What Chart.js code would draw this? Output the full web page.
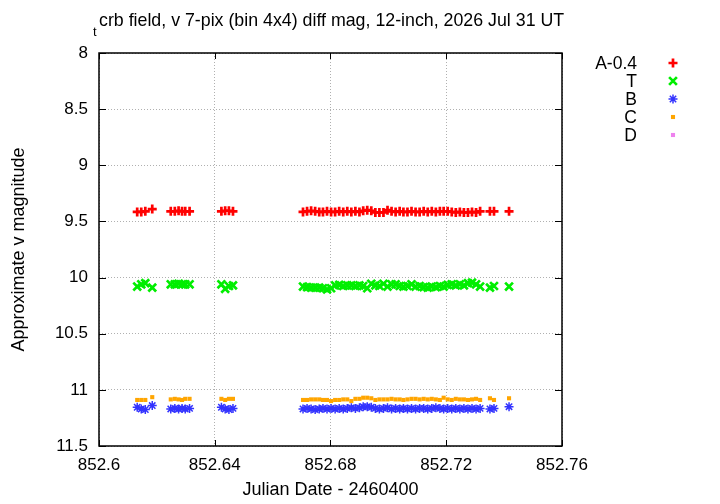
<!DOCTYPE html>
<html>
<head>
<meta charset="utf-8">
<script src="https://cdn.jsdelivr.net/npm/chart.js@4/dist/chart.umd.min.js"></script>
<style>
  html, body { margin: 0; padding: 0; background: #fff; }
  canvas { display: block; }
</style>
</head>
<body>
<canvas id="grafico" width="720" height="504"></canvas>
<script>
// tiempos (JD - 2460400) y magnitudes
const tiempos = [
  852.6132, 852.6146, 852.6160, 852.6184,
  852.6248, 852.6262, 852.6275, 852.6287, 852.6298, 852.6313,
  852.6423, 852.6436, 852.6449, 852.6463,
  852.6705, 852.6719, 852.6733, 852.6747, 852.6761, 852.6774, 852.6788, 852.6802, 852.6816, 852.6830,
  852.6844, 852.6858, 852.6872, 852.6886, 852.6900, 852.6913, 852.6927, 852.6941, 852.6955, 852.6969,
  852.6983, 852.6997, 852.7011, 852.7025, 852.7039, 852.7052, 852.7066, 852.7080, 852.7094, 852.7108,
  852.7122, 852.7136, 852.7150, 852.7164, 852.7178, 852.7191, 852.7205, 852.7219, 852.7233, 852.7247,
  852.7261, 852.7275, 852.7289, 852.7303, 852.7317,
  852.7351, 852.7365, 852.7417
];

const magA = [
  9.415, 9.415, 9.41, 9.39,
  9.41, 9.41, 9.405, 9.41, 9.41, 9.41,
  9.41, 9.405, 9.405, 9.41,
  9.415, 9.41, 9.405, 9.41, 9.415, 9.415, 9.41, 9.415, 9.415, 9.41,
  9.415, 9.41, 9.415, 9.41, 9.415, 9.405, 9.40, 9.405, 9.42, 9.42,
  9.42, 9.40, 9.41, 9.415, 9.41, 9.415, 9.415, 9.41, 9.415, 9.415,
  9.41, 9.415, 9.41, 9.415, 9.41, 9.41, 9.41, 9.415, 9.42, 9.415,
  9.42, 9.42, 9.415, 9.42, 9.41,
  9.41, 9.41, 9.41
];

const magT = [
  10.08, 10.06, 10.05, 10.09,
  10.06, 10.06, 10.055, 10.06, 10.06, 10.06,
  10.06, 10.10, 10.075, 10.07,
  10.08, 10.085, 10.09, 10.09, 10.09, 10.095, 10.105, 10.095, 10.07, 10.065,
  10.075, 10.07, 10.07, 10.075, 10.07, 10.075, 10.095, 10.055, 10.07, 10.075,
  10.055, 10.08, 10.06, 10.06, 10.075, 10.08, 10.075, 10.06, 10.08, 10.075,
  10.085, 10.09, 10.08, 10.085, 10.075, 10.08, 10.065, 10.06, 10.07, 10.06,
  10.07, 10.05, 10.045, 10.06, 10.08,
  10.09, 10.075, 10.08
];

const magB = [
  11.155, 11.17, 11.175, 11.14,
  11.17, 11.165, 11.17, 11.165, 11.17, 11.165,
  11.155, 11.17, 11.175, 11.165,
  11.17, 11.165, 11.17, 11.175, 11.17, 11.165, 11.17, 11.165, 11.17, 11.165,
  11.17, 11.165, 11.16, 11.165, 11.16, 11.15, 11.15, 11.155, 11.165, 11.17,
  11.165, 11.16, 11.17, 11.165, 11.17, 11.165, 11.17, 11.165, 11.17, 11.165,
  11.165, 11.17, 11.165, 11.16, 11.165, 11.17, 11.165, 11.17, 11.165, 11.17,
  11.165, 11.17, 11.165, 11.17, 11.165,
  11.17, 11.165, 11.15
];

const magC = [
  11.09, 11.09, 11.09, 11.065,
  11.085, 11.08, 11.085, 11.09, 11.08, 11.08,
  11.08, 11.09, 11.08, 11.08,
  11.09, 11.09, 11.085, 11.085, 11.085, 11.09, 11.09, 11.10, 11.09, 11.09,
  11.085, 11.085, 11.10, 11.08, 11.08, 11.07, 11.07, 11.075, 11.09, 11.085,
  11.085, 11.085, 11.08, 11.085, 11.085, 11.09, 11.085, 11.08, 11.08, 11.085,
  11.08, 11.085, 11.08, 11.085, 11.09, 11.07, 11.085, 11.09, 11.08, 11.085,
  11.085, 11.09, 11.085, 11.08, 11.09,
  11.075, 11.09, 11.075
];

const magD = [];

const xTicks = [852.6, 852.64, 852.68, 852.72, 852.76];
const yTicks = [8, 8.5, 9, 9.5, 10, 10.5, 11, 11.5];

const series = [
  { label: 'A-0.4', valores: magA, color: '#ff0000', estilo: 'cross', radio: 4.5, grosor: 2.7 },
  { label: 'T', valores: magT, color: '#00ee00', estilo: 'crossRot', radio: 5.5, grosor: 2.7 },
  { label: 'B', valores: magB, color: '#3333ff', estilo: 'star', radio: 4.5, grosor: 1.5 },
  { label: 'C', valores: magC, color: '#ffa500', estilo: 'rect', radio: 2.9, grosor: 0 },
  { label: 'D', valores: magD, color: '#ee82ee', estilo: 'rect', radio: 2.9, grosor: 0 }
];

const fuente = '"Liberation Sans", Arial, Helvetica, sans-serif';

// titulo, leyenda, bordes y marcas hacia dentro al estilo gnuplot
const estiloGnuplot = {
  id: 'estiloGnuplot',
  afterDraw(chart) {
    const ctx = chart.ctx;
    const a = chart.chartArea;
    const xs = chart.scales.x;
    const ys = chart.scales.y;
    ctx.save();

    // marcas
    ctx.strokeStyle = '#000';
    ctx.lineWidth = 1;
    ctx.beginPath();
    xTicks.forEach(v => {
      const px = Math.round(xs.getPixelForValue(v)) + 0.5;
      ctx.moveTo(px, a.bottom); ctx.lineTo(px, a.bottom - 6);
      ctx.moveTo(px, a.top); ctx.lineTo(px, a.top + 6);
    });
    yTicks.forEach(v => {
      const py = Math.round(ys.getPixelForValue(v)) + 0.5;
      ctx.moveTo(a.left, py); ctx.lineTo(a.left + 7, py);
      ctx.moveTo(a.right, py); ctx.lineTo(a.right - 7, py);
    });
    ctx.stroke();

    // borde
    ctx.lineWidth = 1.5;
    ctx.strokeRect(a.left, a.top, a.right - a.left, a.bottom - a.top);

    // titulo
    ctx.fillStyle = '#000';
    ctx.textBaseline = 'alphabetic';
    ctx.textAlign = 'left';
    ctx.font = '13px ' + fuente;
    ctx.fillText('t', 93, 36);
    ctx.font = '17.8px ' + fuente;
    ctx.fillText('crb field, v 7-pix (bin 4x4) diff mag, 12-inch, 2026 Jul 31 UT', 99, 26);

    // leyenda
    series.forEach((s, i) => {
      const y = 63 + i * 18;
      ctx.fillStyle = '#000';
      ctx.textAlign = 'right';
      ctx.textBaseline = 'middle';
      ctx.font = '17.5px ' + fuente;
      ctx.fillText(s.label, 637, y + 1);
      ctx.fillStyle = s.color;
      ctx.strokeStyle = s.color;
      ctx.lineWidth = s.grosor;
      Chart.helpers.drawPoint(ctx, { pointStyle: s.estilo, radius: s.radio, rotation: 0, borderWidth: s.grosor }, 673, y);
    });
    ctx.restore();
  }
};

const ctx = document.getElementById('grafico').getContext('2d');

const chart = new Chart(ctx, {
  type: 'scatter',
  data: {
    datasets: series.map(s => ({
      label: s.label,
      data: s.valores.map((v, i) => ({ x: tiempos[i], y: v })),
      pointStyle: s.estilo,
      pointRadius: s.radio,
      pointHoverRadius: s.radio,
      borderWidth: s.grosor,
      borderColor: s.color,
      backgroundColor: s.color,
      showLine: false
    }))
  },
  options: {
    responsive: false,
    animation: false,
    devicePixelRatio: 1,
    layout: { padding: { left: 0, right: 158, top: 53, bottom: 0 } },
    plugins: {
      legend: { display: false },
      title: { display: false },
      tooltip: { enabled: false }
    },
    scales: {
      x: {
        type: 'linear',
        min: 852.6,
        max: 852.76,
        afterBuildTicks: scale => { scale.ticks = xTicks.map(v => ({ value: v })); },
        afterFit: scale => { scale.height = 58; },
        border: { display: false, dash: [1, 2] },
        grid: { color: '#b0b0b0', drawTicks: false, lineWidth: 1 },
        ticks: {
          color: '#000',
          padding: 9,
          maxRotation: 0,
          font: { family: fuente, size: 17 },
          callback: v => Number(v.toFixed(2)).toString()
        },
        title: {
          display: true,
          text: 'Julian Date - 2460400',
          color: '#000',
          font: { family: fuente, size: 18 },
          padding: { top: 0, bottom: 3 }
        }
      },
      y: {
        reverse: true,
        min: 8,
        max: 11.5,
        afterBuildTicks: scale => { scale.ticks = yTicks.map(v => ({ value: v })); },
        afterFit: scale => { scale.width = 99; },
        border: { display: false, dash: [1, 2] },
        grid: { color: '#b0b0b0', drawTicks: false, lineWidth: 1 },
        ticks: {
          color: '#000',
          padding: 11,
          font: { family: fuente, size: 17 },
          callback: v => Number(v.toFixed(1)).toString()
        },
        title: {
          display: true,
          text: 'Approximate v magnitude',
          color: '#000',
          font: { family: fuente, size: 18 },
          padding: { top: 8, bottom: 0 }
        }
      }
    }
  },
  plugins: [estiloGnuplot]
});
</script>
</body>
</html>
